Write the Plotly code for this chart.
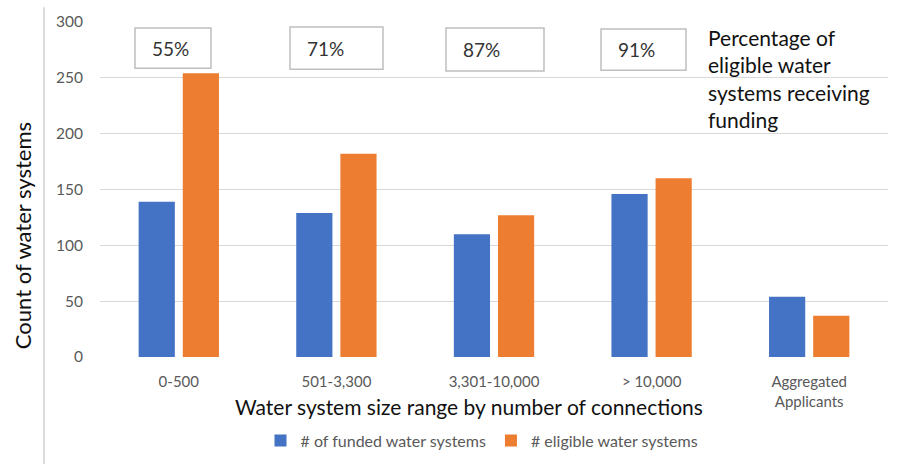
import plotly.graph_objects as go

# Water systems by size range
categories = ["0-500", "501-3,300", "3,301-10,000", "> 10,000", "Aggregated<br>Applicants"]
funded = [139, 129, 110, 146, 54]
eligible = [254, 182, 127, 160, 37]

BLUE = "#4472C4"
ORANGE = "#ED7D31"
GRID = "#D9D9D9"
TICK_GRAY = "#595959"
FONT = "Lato"

W, H = 901, 470
L, R, T, B = 100, 888, 20, 361


def px_x(x):
    return (x - L) / (R - L)


def px_y(y):
    return (B - y) / (B - T)


fig = go.Figure()
fig.add_trace(go.Bar(x=categories, y=funded, name="# of funded water systems",
                     marker=dict(color=BLUE, line=dict(width=0))))
fig.add_trace(go.Bar(x=categories, y=eligible, name="# eligible water systems",
                     marker=dict(color=ORANGE, line=dict(width=0))))

# Share of eligible systems that were funded, boxed above each size range
boxes = [(135, 211, 26, 67), (290, 383, 25, 68), (446, 544, 26, 70), (601, 686, 27, 69)]
for (x0, x1, y0, y1), f, e in zip(boxes, funded[:4], eligible[:4]):
    fig.add_shape(type="rect", xref="paper", yref="paper",
                  x0=px_x(x0), x1=px_x(x1), y0=px_y(y1), y1=px_y(y0),
                  line=dict(color="#BFBFBF", width=1.5), fillcolor="white", layer="above")
    fig.add_annotation(xref="paper", yref="paper", x=px_x(x0 + 15), y=px_y((y0 + y1) / 2),
                       xanchor="left", yanchor="middle", showarrow=False,
                       text=f"{round(100 * f / e)}%",
                       font=dict(family=FONT, size=19, color="#333333"))

fig.add_annotation(xref="paper", yref="paper", x=px_x(706), y=px_y(21),
                   xanchor="left", yanchor="top", align="left", showarrow=False,
                   text="Percentage of<br>eligible water<br>systems receiving<br>funding",
                   font=dict(family=FONT, size=21, color="#111111"))

# Axis titles
fig.add_annotation(xref="paper", yref="paper", x=px_x(469), y=px_y(411),
                   xanchor="center", yanchor="middle", showarrow=False,
                   text="Water system size range by number of connections",
                   font=dict(family=FONT, size=21, color="#111111"))
fig.add_annotation(xref="paper", yref="paper", x=px_x(22), y=px_y(238),
                   xanchor="center", yanchor="middle", showarrow=False, textangle=-90,
                   text="Count of water systems",
                   font=dict(family=FONT, size=22, color="#111111"))

# Thin frame line on the left edge
fig.add_shape(type="line", xref="paper", yref="paper",
              x0=px_x(44), x1=px_x(44), y0=px_y(470), y1=px_y(5),
              line=dict(color="#D0D0D0", width=1.5))

fig.update_layout(
    width=W, height=H,
    margin=dict(l=L, r=W - R, t=T, b=H - B, pad=0),
    paper_bgcolor="white", plot_bgcolor="white",
    barmode="group", bargap=0.44, bargroupgap=0.18,
    font=dict(family=FONT, color=TICK_GRAY),
    legend=dict(orientation="h", xref="paper", yref="paper",
                x=px_x(482), y=px_y(446), xanchor="center", yanchor="middle",
                itemwidth=30, font=dict(family=FONT, size=16, color=TICK_GRAY),
                traceorder="normal", bgcolor="rgba(0,0,0,0)"),
    showlegend=True,
)
fig.update_xaxes(showgrid=False, zeroline=False, showline=False, ticks="",
                 tickfont=dict(family=FONT, size=15, color=TICK_GRAY),
                 ticklabelstandoff=14)
fig.update_yaxes(range=[0, 300], dtick=50, showgrid=True, gridcolor=GRID, gridwidth=1.2,
                 zeroline=False, showline=False, ticks="",
                 tickfont=dict(family=FONT, size=15.5, color=TICK_GRAY),
                 ticklabelstandoff=16)

fig.write_html("out.html")
